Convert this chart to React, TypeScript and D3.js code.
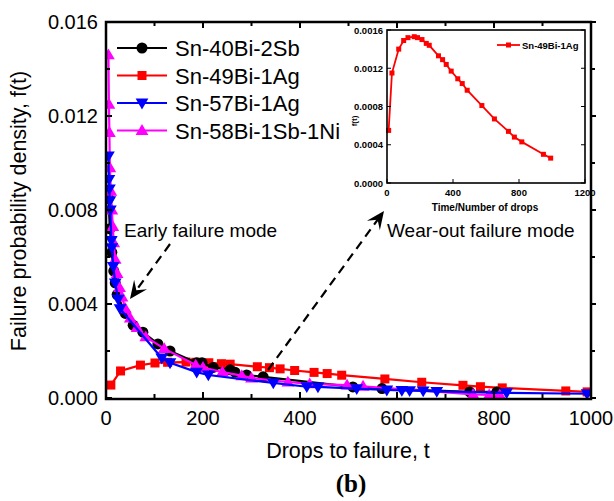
import * as d3 from "d3";

// main chart series (t = drops, f = failure probability density)
const sn40Bi2Sb_t = [5, 8, 12, 16, 19, 23, 40, 56, 76, 107, 132, 187, 198, 221, 256, 266, 290, 324, 509, 569, 750, 806];
const sn40Bi2Sb_f = [0.0085, 0.0072, 0.0062, 0.0054, 0.0049, 0.0044, 0.0036, 0.0031, 0.0028, 0.0023, 0.002, 0.0015, 0.0015, 0.0013, 0.0012, 0.0011, 0.00098, 0.0009, 0.00047, 0.0004, 0.00026, 0.00026];

const sn49Bi1Ag_t = [10, 30, 71, 101, 127, 165, 185, 212, 238, 256, 312, 337, 359, 389, 429, 456, 486, 575, 651, 736, 772, 817, 948, 992];
const sn49Bi1Ag_f = [0.00055, 0.00115, 0.0014, 0.00149, 0.00152, 0.00153, 0.00152, 0.0015, 0.00146, 0.00144, 0.00133, 0.00129, 0.00124, 0.00117, 0.00109, 0.00104, 0.00097, 0.00081, 0.00067, 0.00054, 0.00048, 0.00043, 0.0003, 0.00026];

const sn57Bi1Ag_t = [5, 6, 7, 8, 9, 11, 12, 15, 19, 25, 29, 115, 132, 187, 211, 345, 414, 437, 517, 579, 610, 626, 654, 682, 826, 992];
const sn57Bi1Ag_f = [0.0103, 0.0093, 0.0089, 0.0084, 0.008, 0.0067, 0.0064, 0.0056, 0.0049, 0.0042, 0.0038, 0.0017, 0.0015, 0.0011, 0.00098, 0.00064, 0.00048, 0.00047, 0.0004, 0.00034, 0.00032, 0.00031, 0.0003, 0.00028, 0.00022, 0.00018];

const sn58Bi1Sb1Ni_t = [5, 6, 7, 8, 10, 12, 14, 16, 19, 23, 28, 33, 40, 50, 64, 82, 120, 185, 200, 240, 280, 300, 375, 420, 497, 530, 757, 790, 812];
const sn58Bi1Sb1Ni_f = [0.0146, 0.0125, 0.0113, 0.0098, 0.0088, 0.008, 0.0073, 0.0066, 0.0059, 0.0053, 0.0047, 0.0043, 0.0038, 0.0034, 0.003, 0.0026, 0.0021, 0.0014, 0.0013, 0.0011, 0.00095, 0.00085, 0.00068, 0.0006, 0.00055, 0.0005, 0.00015, 0.00013, 0.00013];

const xTicks = [0, 200, 400, 600, 800, 1000];
const yTicks = [0, 0.004, 0.008, 0.012, 0.016];
const insetXTicks = [0, 400, 800, 1200];
const insetYTicks = [0, 0.0004, 0.0008, 0.0012, 0.0016];

type Series = { name: string; t: number[]; f: number[]; color: string; marker: string };

const series: Series[] = [
  { name: "Sn-49Bi-1Ag", t: sn49Bi1Ag_t, f: sn49Bi1Ag_f, color: "#ff0000", marker: "square" },
  { name: "Sn-40Bi-2Sb", t: sn40Bi2Sb_t, f: sn40Bi2Sb_f, color: "#000000", marker: "circle" },
  { name: "Sn-58Bi-1Sb-1Ni", t: sn58Bi1Sb1Ni_t, f: sn58Bi1Sb1Ni_f, color: "#ff00ff", marker: "up" },
  { name: "Sn-57Bi-1Ag", t: sn57Bi1Ag_t, f: sn57Bi1Ag_f, color: "#0000ff", marker: "down" },
];
const legendOrder = ["Sn-40Bi-2Sb", "Sn-49Bi-1Ag", "Sn-57Bi-1Ag", "Sn-58Bi-1Sb-1Ni"];

function Marker({ type, x, y, color, s }: { type: string; x: number; y: number; color: string; s: number }) {
  if (type === "circle") return <circle cx={x} cy={y} r={s * 0.5} fill={color} />;
  if (type === "square") return <rect x={x - s / 2} y={y - s / 2} width={s} height={s} fill={color} />;
  const h = s * 0.58;
  if (type === "up")
    return <polygon points={`${x},${y - h} ${x - h},${y + h * 0.7} ${x + h},${y + h * 0.7}`} fill={color} />;
  return <polygon points={`${x},${y + h} ${x - h},${y - h * 0.7} ${x + h},${y - h * 0.7}`} fill={color} />;
}

function Arrow({ x1, y1, x2, y2 }: { x1: number; y1: number; x2: number; y2: number }) {
  const a = Math.atan2(y2 - y1, x2 - x1);
  const L = 18;
  const w = 8;
  const bx = x2 - L * Math.cos(a);
  const by = y2 - L * Math.sin(a);
  const nx = -Math.sin(a);
  const ny = Math.cos(a);
  const ix = x2 - L * 0.6 * Math.cos(a);
  const iy = y2 - L * 0.6 * Math.sin(a);
  const ex = x2 - L * 0.5 * Math.cos(a);
  const ey = y2 - L * 0.5 * Math.sin(a);
  return (
    <g>
      <line x1={x1} y1={y1} x2={ex} y2={ey} stroke="#000" strokeWidth={2.2} strokeDasharray="9,6" />
      <polygon
        points={`${x2},${y2} ${bx + nx * w},${by + ny * w} ${ix},${iy} ${bx - nx * w},${by - ny * w}`}
        fill="#000"
      />
    </g>
  );
}

export default function App() {
  const W = 614;
  const H = 501;
  const x = d3.scaleLinear().domain([0, 1000]).range([106, 591]);
  const y = d3.scaleLinear().domain([0, 0.016]).range([398, 22]);
  const ix = d3.scaleLinear().domain([0, 1200]).range([387, 585]);
  const iy = d3.scaleLinear().domain([0, 0.0016]).range([183, 30]);

  const line = d3
    .line<[number, number]>()
    .x((d) => x(d[0]))
    .y((d) => y(d[1]));
  const iline = d3
    .line<[number, number]>()
    .x((d) => ix(d[0]))
    .y((d) => iy(d[1]));

  const font = "Liberation Sans, Arial, sans-serif";
  const minorX = d3.range(100, 1000, 200);
  const minorY = d3.range(0.002, 0.016, 0.004);
  const red = series[0];

  return (
    <svg width={W} height={H} style={{ position: "absolute", left: 0, top: 0, background: "#fff" }} fontFamily={font}>
      <rect width={W} height={H} fill="#fff" />
      <defs>
        <clipPath id="plot">
          <rect x={106} y={22} width={485} height={377} />
        </clipPath>
      </defs>

      {/* series */}
      <g clipPath="url(#plot)">
        {series.map((s) => {
          const pts = s.t.map((t, i) => [t, s.f[i]] as [number, number]);
          return (
            <g key={s.name}>
              <path d={line(pts) || ""} fill="none" stroke={s.color} strokeWidth={2.2} />
              {pts.map((p, i) => (
                <Marker key={i} type={s.marker} x={x(p[0])} y={y(p[1])} color={s.color} s={s.marker === "square" ? 9 : 11} />
              ))}
            </g>
          );
        })}
      </g>

      {/* frame and ticks */}
      <rect x={106} y={22} width={485} height={377} fill="none" stroke="#000" strokeWidth={2.5} />
      {xTicks.map((t) => (
        <g key={"xt" + t}>
          <line x1={x(t)} x2={x(t)} y1={398} y2={392} stroke="#000" strokeWidth={2} />
          <line x1={x(t)} x2={x(t)} y1={22} y2={28} stroke="#000" strokeWidth={2} />
          <text x={x(t)} y={425} fontSize={20} textAnchor="middle">{t}</text>
        </g>
      ))}
      {minorX.map((t) => (
        <g key={"mx" + t}>
          <line x1={x(t)} x2={x(t)} y1={398} y2={394} stroke="#000" strokeWidth={2} />
          <line x1={x(t)} x2={x(t)} y1={22} y2={26} stroke="#000" strokeWidth={2} />
        </g>
      ))}
      {yTicks.map((v) => (
        <g key={"yt" + v}>
          <line x1={106} x2={112} y1={y(v)} y2={y(v)} stroke="#000" strokeWidth={2} />
          <line x1={591} x2={596} y1={y(v)} y2={y(v)} stroke="#000" strokeWidth={2} />
          <text x={98} y={y(v) + 7} fontSize={20} textAnchor="end">{v.toFixed(3)}</text>
        </g>
      ))}
      {minorY.map((v) => (
        <g key={"my" + v}>
          <line x1={106} x2={110} y1={y(v)} y2={y(v)} stroke="#000" strokeWidth={2} />
          <line x1={591} x2={595} y1={y(v)} y2={y(v)} stroke="#000" strokeWidth={2} />
        </g>
      ))}

      <text x={348} y={458} fontSize={21.5} textAnchor="middle">Drops to failure, t</text>
      <text transform="translate(26,211) rotate(-90)" fontSize={21.5} textAnchor="middle">
        Failure probability density, f(t)
      </text>
      <text x={351} y={492} fontSize={25} fontWeight="bold" fontFamily="Liberation Serif, Times New Roman, serif" textAnchor="middle">
        (b)
      </text>

      {/* legend */}
      {legendOrder.map((name, i) => {
        const s = series.find((d) => d.name === name)!;
        const ly = 48 + i * 27.5;
        return (
          <g key={"lg" + name}>
            <line x1={117} x2={167} y1={ly} y2={ly} stroke={s.color} strokeWidth={2.2} />
            <Marker type={s.marker} x={142} y={ly} color={s.color} s={s.marker === "square" ? 9 : 11} />
            <text x={175} y={ly + 8} fontSize={22}>{name}</text>
          </g>
        );
      })}

      {/* annotations */}
      <text x={124} y={237} fontSize={19}>Early failure mode</text>
      <Arrow x1={170} y1={244} x2={130} y2={299} />
      <text x={387} y={237} fontSize={19}>Wear-out failure mode</text>
      <Arrow x1={268} y1={370} x2={384} y2={211} />

      {/* inset */}
      <g>
        <path
          d={iline(red.t.map((t, i) => [t, red.f[i]] as [number, number])) || ""}
          fill="none"
          stroke="#ff0000"
          strokeWidth={1.8}
        />
        {red.t.map((t, i) => (
          <rect key={"ip" + i} x={ix(t) - 2.5} y={iy(red.f[i]) - 2.5} width={5} height={5} fill="#ff0000" />
        ))}
        <rect x={387} y={30} width={198} height={153} fill="none" stroke="#000" strokeWidth={1.6} />
        {insetXTicks.map((t) => (
          <g key={"ixt" + t}>
            <line x1={ix(t)} x2={ix(t)} y1={183} y2={179} stroke="#000" strokeWidth={1} />
            <text x={ix(t)} y={196} fontSize={9.5} fontWeight="bold" textAnchor="middle">{t}</text>
          </g>
        ))}
        {insetYTicks.map((v) => (
          <g key={"iyt" + v}>
            <line x1={387} x2={391} y1={iy(v)} y2={iy(v)} stroke="#000" strokeWidth={1} />
            <line x1={585} x2={581} y1={iy(v)} y2={iy(v)} stroke="#000" strokeWidth={1} />
            <text x={383} y={iy(v) + 3.5} fontSize={9.5} fontWeight="bold" textAnchor="end">{v.toFixed(4)}</text>
          </g>
        ))}
        <text x={485} y={211} fontSize={10} fontWeight="bold" textAnchor="middle">Time/Number of drops</text>
        <text transform="translate(357,121) rotate(-90)" fontSize={8} fontWeight="bold" textAnchor="middle">f(t)</text>
        <line x1={497} x2={520} y1={45} y2={45} stroke="#ff0000" strokeWidth={1.8} />
        <rect x={506} y={42.5} width={5} height={5} fill="#ff0000" />
        <text x={522} y={48.5} fontSize={9.5} fontWeight="bold">Sn-49Bi-1Ag</text>
      </g>
    </svg>
  );
}
